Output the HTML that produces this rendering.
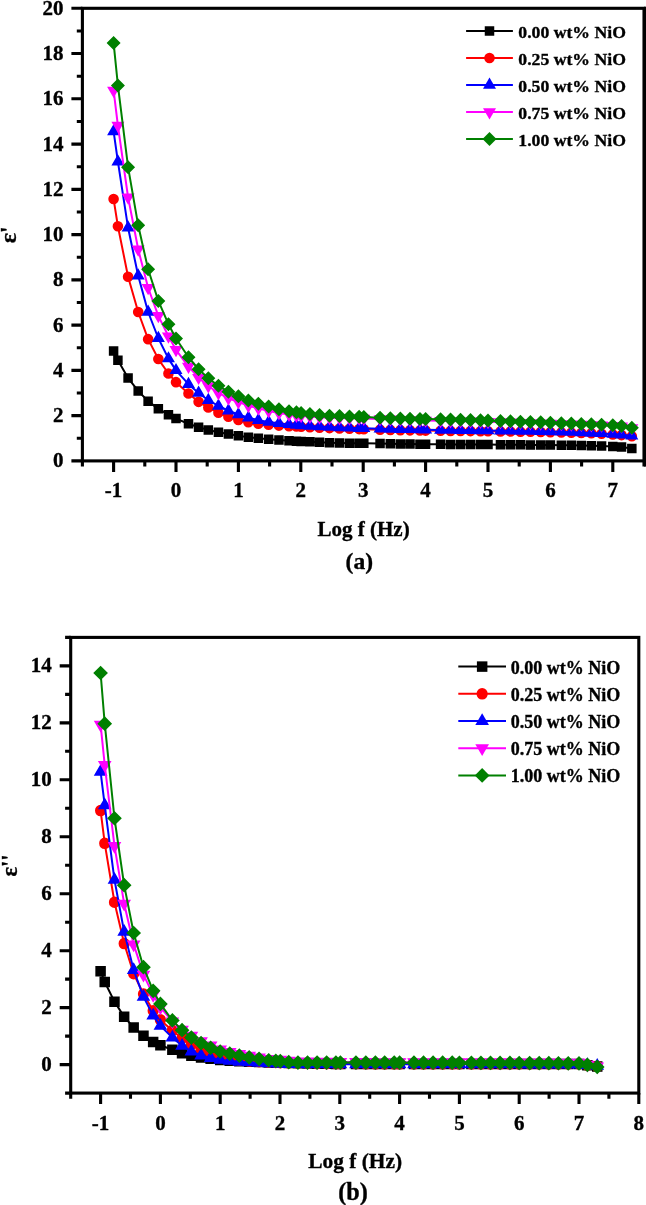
<!DOCTYPE html>
<html><head><meta charset="utf-8"><title>Dielectric plots</title>
<style>html,body{margin:0;padding:0;background:#fff}svg{display:block}</style></head>
<body>
<svg width="646" height="1205" viewBox="0 0 646 1205">
<rect width="646" height="1205" fill="#fff"/>
<g>
<polyline points="113.6,350.92 117.91,360.2 128.08,378.07 138.19,390.97 148.11,401.16 158.34,408.85 168.45,414.73 176,418.58 188.48,423.79 198.59,427.18 208.32,429.9 218.43,432.16 228.42,433.97 238.4,435.78 248.38,437.14 258.37,438.24 268.66,439.23 278.96,440.06 289.01,440.73 296.43,441.16 301.11,441.42 309.91,441.87 319.52,442.34 329.5,442.8 339.49,443.02 349.47,443.19 359.14,443.32 363.82,443.37 380.05,443.59 390.34,443.76 400.33,443.93 410,444.08 419.98,444.21 425.6,444.27 440.58,444.37 450.56,444.42 460.54,444.47 470.53,444.51 480.51,444.56 488,444.61 500.48,444.68 510.46,444.74 520.45,444.81 530.43,444.88 540.73,444.97 550.4,445.06 561.32,445.19 571.3,445.34 581.29,445.52 591.33,445.73 601.57,446 612.8,446.42 621.54,446.98 631.83,448.45" fill="none" stroke="#000000" stroke-width="2.0" stroke-linejoin="round"/>
<path d="M108.85 346.17h9.5v9.5h-9.5zM113.16 355.45h9.5v9.5h-9.5zM123.33 373.32h9.5v9.5h-9.5zM133.44 386.22h9.5v9.5h-9.5zM143.36 396.41h9.5v9.5h-9.5zM153.59 404.1h9.5v9.5h-9.5zM163.7 409.98h9.5v9.5h-9.5zM171.25 413.83h9.5v9.5h-9.5zM183.73 419.04h9.5v9.5h-9.5zM193.84 422.43h9.5v9.5h-9.5zM203.57 425.15h9.5v9.5h-9.5zM213.68 427.41h9.5v9.5h-9.5zM223.67 429.22h9.5v9.5h-9.5zM233.65 431.03h9.5v9.5h-9.5zM243.63 432.39h9.5v9.5h-9.5zM253.62 433.49h9.5v9.5h-9.5zM263.91 434.48h9.5v9.5h-9.5zM274.21 435.31h9.5v9.5h-9.5zM284.26 435.98h9.5v9.5h-9.5zM291.68 436.41h9.5v9.5h-9.5zM296.36 436.67h9.5v9.5h-9.5zM305.16 437.12h9.5v9.5h-9.5zM314.77 437.59h9.5v9.5h-9.5zM324.75 438.05h9.5v9.5h-9.5zM334.74 438.27h9.5v9.5h-9.5zM344.72 438.44h9.5v9.5h-9.5zM354.39 438.57h9.5v9.5h-9.5zM359.07 438.62h9.5v9.5h-9.5zM375.3 438.84h9.5v9.5h-9.5zM385.59 439.01h9.5v9.5h-9.5zM395.58 439.18h9.5v9.5h-9.5zM405.25 439.33h9.5v9.5h-9.5zM415.23 439.46h9.5v9.5h-9.5zM420.85 439.52h9.5v9.5h-9.5zM435.83 439.62h9.5v9.5h-9.5zM445.81 439.67h9.5v9.5h-9.5zM455.79 439.72h9.5v9.5h-9.5zM465.78 439.76h9.5v9.5h-9.5zM475.76 439.81h9.5v9.5h-9.5zM483.25 439.86h9.5v9.5h-9.5zM495.73 439.93h9.5v9.5h-9.5zM505.71 439.99h9.5v9.5h-9.5zM515.7 440.06h9.5v9.5h-9.5zM525.68 440.13h9.5v9.5h-9.5zM535.98 440.22h9.5v9.5h-9.5zM545.65 440.31h9.5v9.5h-9.5zM556.57 440.44h9.5v9.5h-9.5zM566.55 440.59h9.5v9.5h-9.5zM576.54 440.77h9.5v9.5h-9.5zM586.58 440.98h9.5v9.5h-9.5zM596.82 441.25h9.5v9.5h-9.5zM608.05 441.67h9.5v9.5h-9.5zM616.79 442.23h9.5v9.5h-9.5zM627.08 443.7h9.5v9.5h-9.5z" fill="#000000"/>
<polyline points="113.6,199.07 117.91,226.23 128.08,276.69 138.19,311.99 148.11,339.15 158.34,359.06 168.45,373.55 176,382.15 188.48,393.46 198.59,401.84 208.32,407.49 218.43,412.7 228.42,416.77 238.4,419.94 248.38,422.2 258.37,423.79 268.66,424.81 278.96,425.58 289.01,426.18 296.43,426.57 301.11,426.79 309.91,427.19 319.52,427.63 329.5,428.09 339.49,428.46 349.47,428.8 359.14,429.1 363.82,429.24 380.05,429.66 390.34,429.9 400.33,430.15 410,430.35 419.98,430.52 425.6,430.6 440.58,430.81 450.56,430.92 460.54,431.03 470.53,431.11 480.51,431.19 488,431.25 500.48,431.39 510.46,431.52 520.45,431.65 530.43,431.81 540.73,431.98 550.4,432.16 561.32,432.39 571.3,432.64 581.29,432.94 591.33,433.28 601.57,433.75 612.8,434.42 621.54,435.1 631.83,436.23" fill="none" stroke="#ff0000" stroke-width="2.0" stroke-linejoin="round"/>
<path d="M108.3 199.07a5.3 5.3 0 1 0 10.6 0a5.3 5.3 0 1 0 -10.6 0zM112.61 226.23a5.3 5.3 0 1 0 10.6 0a5.3 5.3 0 1 0 -10.6 0zM122.78 276.69a5.3 5.3 0 1 0 10.6 0a5.3 5.3 0 1 0 -10.6 0zM132.89 311.99a5.3 5.3 0 1 0 10.6 0a5.3 5.3 0 1 0 -10.6 0zM142.81 339.15a5.3 5.3 0 1 0 10.6 0a5.3 5.3 0 1 0 -10.6 0zM153.04 359.06a5.3 5.3 0 1 0 10.6 0a5.3 5.3 0 1 0 -10.6 0zM163.15 373.55a5.3 5.3 0 1 0 10.6 0a5.3 5.3 0 1 0 -10.6 0zM170.7 382.15a5.3 5.3 0 1 0 10.6 0a5.3 5.3 0 1 0 -10.6 0zM183.18 393.46a5.3 5.3 0 1 0 10.6 0a5.3 5.3 0 1 0 -10.6 0zM193.29 401.84a5.3 5.3 0 1 0 10.6 0a5.3 5.3 0 1 0 -10.6 0zM203.02 407.49a5.3 5.3 0 1 0 10.6 0a5.3 5.3 0 1 0 -10.6 0zM213.13 412.7a5.3 5.3 0 1 0 10.6 0a5.3 5.3 0 1 0 -10.6 0zM223.12 416.77a5.3 5.3 0 1 0 10.6 0a5.3 5.3 0 1 0 -10.6 0zM233.1 419.94a5.3 5.3 0 1 0 10.6 0a5.3 5.3 0 1 0 -10.6 0zM243.08 422.2a5.3 5.3 0 1 0 10.6 0a5.3 5.3 0 1 0 -10.6 0zM253.07 423.79a5.3 5.3 0 1 0 10.6 0a5.3 5.3 0 1 0 -10.6 0zM263.36 424.81a5.3 5.3 0 1 0 10.6 0a5.3 5.3 0 1 0 -10.6 0zM273.66 425.58a5.3 5.3 0 1 0 10.6 0a5.3 5.3 0 1 0 -10.6 0zM283.71 426.18a5.3 5.3 0 1 0 10.6 0a5.3 5.3 0 1 0 -10.6 0zM291.13 426.57a5.3 5.3 0 1 0 10.6 0a5.3 5.3 0 1 0 -10.6 0zM295.81 426.79a5.3 5.3 0 1 0 10.6 0a5.3 5.3 0 1 0 -10.6 0zM304.61 427.19a5.3 5.3 0 1 0 10.6 0a5.3 5.3 0 1 0 -10.6 0zM314.22 427.63a5.3 5.3 0 1 0 10.6 0a5.3 5.3 0 1 0 -10.6 0zM324.2 428.09a5.3 5.3 0 1 0 10.6 0a5.3 5.3 0 1 0 -10.6 0zM334.19 428.46a5.3 5.3 0 1 0 10.6 0a5.3 5.3 0 1 0 -10.6 0zM344.17 428.8a5.3 5.3 0 1 0 10.6 0a5.3 5.3 0 1 0 -10.6 0zM353.84 429.1a5.3 5.3 0 1 0 10.6 0a5.3 5.3 0 1 0 -10.6 0zM358.52 429.24a5.3 5.3 0 1 0 10.6 0a5.3 5.3 0 1 0 -10.6 0zM374.75 429.66a5.3 5.3 0 1 0 10.6 0a5.3 5.3 0 1 0 -10.6 0zM385.04 429.9a5.3 5.3 0 1 0 10.6 0a5.3 5.3 0 1 0 -10.6 0zM395.03 430.15a5.3 5.3 0 1 0 10.6 0a5.3 5.3 0 1 0 -10.6 0zM404.7 430.35a5.3 5.3 0 1 0 10.6 0a5.3 5.3 0 1 0 -10.6 0zM414.68 430.52a5.3 5.3 0 1 0 10.6 0a5.3 5.3 0 1 0 -10.6 0zM420.3 430.6a5.3 5.3 0 1 0 10.6 0a5.3 5.3 0 1 0 -10.6 0zM435.28 430.81a5.3 5.3 0 1 0 10.6 0a5.3 5.3 0 1 0 -10.6 0zM445.26 430.92a5.3 5.3 0 1 0 10.6 0a5.3 5.3 0 1 0 -10.6 0zM455.24 431.03a5.3 5.3 0 1 0 10.6 0a5.3 5.3 0 1 0 -10.6 0zM465.23 431.11a5.3 5.3 0 1 0 10.6 0a5.3 5.3 0 1 0 -10.6 0zM475.21 431.19a5.3 5.3 0 1 0 10.6 0a5.3 5.3 0 1 0 -10.6 0zM482.7 431.25a5.3 5.3 0 1 0 10.6 0a5.3 5.3 0 1 0 -10.6 0zM495.18 431.39a5.3 5.3 0 1 0 10.6 0a5.3 5.3 0 1 0 -10.6 0zM505.16 431.52a5.3 5.3 0 1 0 10.6 0a5.3 5.3 0 1 0 -10.6 0zM515.15 431.65a5.3 5.3 0 1 0 10.6 0a5.3 5.3 0 1 0 -10.6 0zM525.13 431.81a5.3 5.3 0 1 0 10.6 0a5.3 5.3 0 1 0 -10.6 0zM535.43 431.98a5.3 5.3 0 1 0 10.6 0a5.3 5.3 0 1 0 -10.6 0zM545.1 432.16a5.3 5.3 0 1 0 10.6 0a5.3 5.3 0 1 0 -10.6 0zM556.02 432.39a5.3 5.3 0 1 0 10.6 0a5.3 5.3 0 1 0 -10.6 0zM566 432.64a5.3 5.3 0 1 0 10.6 0a5.3 5.3 0 1 0 -10.6 0zM575.99 432.94a5.3 5.3 0 1 0 10.6 0a5.3 5.3 0 1 0 -10.6 0zM586.03 433.28a5.3 5.3 0 1 0 10.6 0a5.3 5.3 0 1 0 -10.6 0zM596.27 433.75a5.3 5.3 0 1 0 10.6 0a5.3 5.3 0 1 0 -10.6 0zM607.5 434.42a5.3 5.3 0 1 0 10.6 0a5.3 5.3 0 1 0 -10.6 0zM616.24 435.1a5.3 5.3 0 1 0 10.6 0a5.3 5.3 0 1 0 -10.6 0zM626.53 436.23a5.3 5.3 0 1 0 10.6 0a5.3 5.3 0 1 0 -10.6 0z" fill="#ff0000"/>
<polyline points="113.6,131.41 117.91,161.73 128.08,227.81 138.19,275.79 148.11,311.99 158.34,338.25 168.45,358.61 176,370.38 188.48,384.18 198.59,393.01 208.32,400.25 218.43,405.91 228.42,410.66 238.4,414.51 248.38,417.68 258.37,420.17 268.66,421.93 278.96,423.3 289.01,424.38 296.43,425.04 301.11,425.39 309.91,425.96 319.52,426.47 329.5,426.95 339.49,427.41 349.47,427.83 359.14,428.19 363.82,428.33 380.05,428.76 390.34,429 400.33,429.2 410,429.39 419.98,429.57 425.6,429.67 440.58,429.91 450.56,430.06 460.54,430.2 470.53,430.33 480.51,430.47 488,430.58 500.48,430.74 510.46,430.87 520.45,430.99 530.43,431.13 540.73,431.29 550.4,431.48 561.32,431.77 571.3,432.13 581.29,432.52 591.33,432.94 601.57,433.38 612.8,433.97 621.54,434.65 631.83,435.67" fill="none" stroke="#0000ff" stroke-width="2.0" stroke-linejoin="round"/>
<path d="M113.6 123.94L120.1 135.14L107.1 135.14zM117.91 154.26L124.41 165.46L111.41 165.46zM128.08 220.34L134.58 231.54L121.58 231.54zM138.19 268.32L144.69 279.52L131.69 279.52zM148.11 304.53L154.61 315.73L141.61 315.73zM158.34 330.78L164.84 341.98L151.84 341.98zM168.45 351.15L174.95 362.35L161.95 362.35zM176 362.91L182.5 374.11L169.5 374.11zM188.48 376.72L194.98 387.92L181.98 387.92zM198.59 385.54L205.09 396.74L192.09 396.74zM208.32 392.78L214.82 403.98L201.82 403.98zM218.43 398.44L224.93 409.64L211.93 409.64zM228.42 403.19L234.92 414.39L221.92 414.39zM238.4 407.04L244.9 418.24L231.9 418.24zM248.38 410.21L254.88 421.41L241.88 421.41zM258.37 412.7L264.87 423.9L251.87 423.9zM268.66 414.47L275.16 425.67L262.16 425.67zM278.96 415.83L285.46 427.03L272.46 427.03zM289.01 416.91L295.51 428.11L282.51 428.11zM296.43 417.57L302.93 428.77L289.93 428.77zM301.11 417.93L307.61 429.13L294.61 429.13zM309.91 418.49L316.41 429.69L303.41 429.69zM319.52 419.01L326.02 430.21L313.02 430.21zM329.5 419.49L336 430.69L323 430.69zM339.49 419.95L345.99 431.15L332.99 431.15zM349.47 420.37L355.97 431.57L342.97 431.57zM359.14 420.72L365.64 431.92L352.64 431.92zM363.82 420.86L370.32 432.06L357.32 432.06zM380.05 421.29L386.55 432.49L373.55 432.49zM390.34 421.53L396.84 432.73L383.84 432.73zM400.33 421.74L406.83 432.94L393.83 432.94zM410 421.92L416.5 433.12L403.5 433.12zM419.98 422.11L426.48 433.31L413.48 433.31zM425.6 422.2L432.1 433.4L419.1 433.4zM440.58 422.45L447.08 433.65L434.08 433.65zM450.56 422.59L457.06 433.79L444.06 433.79zM460.54 422.73L467.04 433.93L454.04 433.93zM470.53 422.87L477.03 434.07L464.03 434.07zM480.51 423L487.01 434.2L474.01 434.2zM488 423.11L494.5 434.31L481.5 434.31zM500.48 423.28L506.98 434.48L493.98 434.48zM510.46 423.4L516.96 434.6L503.96 434.6zM520.45 423.52L526.95 434.72L513.95 434.72zM530.43 423.66L536.93 434.86L523.93 434.86zM540.73 423.83L547.23 435.03L534.23 435.03zM550.4 424.01L556.9 435.21L543.9 435.21zM561.32 424.31L567.82 435.51L554.82 435.51zM571.3 424.66L577.8 435.86L564.8 435.86zM581.29 425.06L587.79 436.26L574.79 436.26zM591.33 425.47L597.83 436.67L584.83 436.67zM601.57 425.91L608.07 437.11L595.07 437.11zM612.8 426.5L619.3 437.7L606.3 437.7zM621.54 427.18L628.04 438.38L615.04 438.38zM631.83 428.2L638.33 439.4L625.33 439.4z" fill="#0000ff"/>
<polyline points="113.6,90.45 117.91,125.52 128.08,197.26 138.19,249.31 148.11,287.78 158.34,315.84 168.45,336.21 176,349.79 188.48,366.53 198.59,377.62 208.32,385.99 218.43,393.01 228.42,398.21 238.4,402.06 248.38,405.68 258.37,408.4 268.66,410.98 278.96,413.1 289.01,414.58 296.43,415.45 301.11,415.89 309.91,416.59 319.52,417.22 329.5,417.68 339.49,417.96 349.47,418.17 359.14,418.37 363.82,418.49 380.05,418.97 390.34,419.3 400.33,419.64 410,419.95 419.98,420.24 425.6,420.39 440.58,420.74 450.56,420.95 460.54,421.15 470.53,421.35 480.51,421.57 488,421.75 500.48,422.08 510.46,422.35 520.45,422.65 530.43,422.95 540.73,423.26 550.4,423.56 561.32,423.9 571.3,424.23 581.29,424.56 591.33,424.91 601.57,425.26 612.8,425.71 621.54,426.28 631.83,427.86" fill="none" stroke="#ff00ff" stroke-width="2.0" stroke-linejoin="round"/>
<path d="M113.6 97.91L120.1 86.71L107.1 86.71zM117.91 132.99L124.41 121.79L111.41 121.79zM128.08 204.73L134.58 193.53L121.58 193.53zM138.19 256.78L144.69 245.58L131.69 245.58zM148.11 295.25L154.61 284.05L141.61 284.05zM158.34 323.31L164.84 312.11L151.84 312.11zM168.45 343.68L174.95 332.48L161.95 332.48zM176 357.25L182.5 346.05L169.5 346.05zM188.48 374L194.98 362.8L181.98 362.8zM198.59 385.09L205.09 373.89L192.09 373.89zM208.32 393.46L214.82 382.26L201.82 382.26zM218.43 400.48L224.93 389.28L211.93 389.28zM228.42 405.68L234.92 394.48L221.92 394.48zM238.4 409.53L244.9 398.33L231.9 398.33zM248.38 413.15L254.88 401.95L241.88 401.95zM258.37 415.87L264.87 404.67L251.87 404.67zM268.66 418.44L275.16 407.24L262.16 407.24zM278.96 420.57L285.46 409.37L272.46 409.37zM289.01 422.05L295.51 410.85L282.51 410.85zM296.43 422.92L302.93 411.72L289.93 411.72zM301.11 423.36L307.61 412.16L294.61 412.16zM309.91 424.06L316.41 412.86L303.41 412.86zM319.52 424.69L326.02 413.49L313.02 413.49zM329.5 425.14L336 413.94L323 413.94zM339.49 425.43L345.99 414.23L332.99 414.23zM349.47 425.64L355.97 414.44L342.97 414.44zM359.14 425.84L365.64 414.64L352.64 414.64zM363.82 425.95L370.32 414.75L357.32 414.75zM380.05 426.43L386.55 415.23L373.55 415.23zM390.34 426.77L396.84 415.57L383.84 415.57zM400.33 427.1L406.83 415.9L393.83 415.9zM410 427.41L416.5 416.21L403.5 416.21zM419.98 427.71L426.48 416.51L413.48 416.51zM425.6 427.86L432.1 416.66L419.1 416.66zM440.58 428.21L447.08 417.01L434.08 417.01zM450.56 428.42L457.06 417.22L444.06 417.22zM460.54 428.62L467.04 417.42L454.04 417.42zM470.53 428.82L477.03 417.62L464.03 417.62zM480.51 429.04L487.01 417.84L474.01 417.84zM488 429.22L494.5 418.02L481.5 418.02zM500.48 429.54L506.98 418.34L493.98 418.34zM510.46 429.82L516.96 418.62L503.96 418.62zM520.45 430.11L526.95 418.91L513.95 418.91zM530.43 430.41L536.93 419.21L523.93 419.21zM540.73 430.73L547.23 419.53L534.23 419.53zM550.4 431.03L556.9 419.83L543.9 419.83zM561.32 431.37L567.82 420.17L554.82 420.17zM571.3 431.69L577.8 420.49L564.8 420.49zM581.29 432.03L587.79 420.83L574.79 420.83zM591.33 432.38L597.83 421.18L584.83 421.18zM601.57 432.72L608.07 421.52L595.07 421.52zM612.8 433.18L619.3 421.98L606.3 421.98zM621.54 433.74L628.04 422.54L615.04 422.54zM631.83 435.33L638.33 424.13L625.33 424.13z" fill="#ff00ff"/>
<polyline points="113.6,42.92 117.91,85.47 128.08,167.16 138.19,225.32 148.11,269.22 158.34,300.91 168.45,324.21 176,338.47 188.48,357.25 198.59,369.25 208.32,378.3 218.43,385.77 228.42,391.65 238.4,396.18 248.38,400.48 258.37,403.65 268.66,406.61 278.96,409.23 289.01,411.34 296.43,412.25 301.11,412.92 309.91,414.06 319.52,414.96 329.5,415.64 339.49,416.07 349.47,416.4 359.14,416.73 363.82,416.91 380.05,417.7 390.34,418.14 400.33,418.45 410,418.7 419.98,418.91 425.6,419.02 440.58,419.29 450.56,419.48 460.54,419.71 470.53,420.01 480.51,420.36 488,420.62 500.48,421.02 510.46,421.33 520.45,421.64 530.43,421.96 540.73,422.3 550.4,422.66 561.32,423.14 571.3,423.62 581.29,424 591.33,424.23 601.57,424.69 612.8,425.37 621.54,426.05 631.83,427.86" fill="none" stroke="#008000" stroke-width="2.0" stroke-linejoin="round"/>
<path d="M113.6 35.92L120.6 42.92L113.6 49.92L106.6 42.92zM117.91 78.47L124.91 85.47L117.91 92.47L110.91 85.47zM128.08 160.16L135.08 167.16L128.08 174.16L121.08 167.16zM138.19 218.32L145.19 225.32L138.19 232.32L131.19 225.32zM148.11 262.22L155.11 269.22L148.11 276.22L141.11 269.22zM158.34 293.91L165.34 300.91L158.34 307.91L151.34 300.91zM168.45 317.21L175.45 324.21L168.45 331.21L161.45 324.21zM176 331.47L183 338.47L176 345.47L169 338.47zM188.48 350.25L195.48 357.25L188.48 364.25L181.48 357.25zM198.59 362.25L205.59 369.25L198.59 376.25L191.59 369.25zM208.32 371.3L215.32 378.3L208.32 385.3L201.32 378.3zM218.43 378.77L225.43 385.77L218.43 392.77L211.43 385.77zM228.42 384.65L235.42 391.65L228.42 398.65L221.42 391.65zM238.4 389.18L245.4 396.18L238.4 403.18L231.4 396.18zM248.38 393.48L255.38 400.48L248.38 407.48L241.38 400.48zM258.37 396.65L265.37 403.65L258.37 410.65L251.37 403.65zM268.66 399.61L275.66 406.61L268.66 413.61L261.66 406.61zM278.96 402.23L285.96 409.23L278.96 416.23L271.96 409.23zM289.01 404.34L296.01 411.34L289.01 418.34L282.01 411.34zM296.43 405.25L303.43 412.25L296.43 419.25L289.43 412.25zM301.11 405.92L308.11 412.92L301.11 419.92L294.11 412.92zM309.91 407.06L316.91 414.06L309.91 421.06L302.91 414.06zM319.52 407.96L326.52 414.96L319.52 421.96L312.52 414.96zM329.5 408.64L336.5 415.64L329.5 422.64L322.5 415.64zM339.49 409.07L346.49 416.07L339.49 423.07L332.49 416.07zM349.47 409.4L356.47 416.4L349.47 423.4L342.47 416.4zM359.14 409.73L366.14 416.73L359.14 423.73L352.14 416.73zM363.82 409.91L370.82 416.91L363.82 423.91L356.82 416.91zM380.05 410.7L387.05 417.7L380.05 424.7L373.05 417.7zM390.34 411.14L397.34 418.14L390.34 425.14L383.34 418.14zM400.33 411.45L407.33 418.45L400.33 425.45L393.33 418.45zM410 411.7L417 418.7L410 425.7L403 418.7zM419.98 411.91L426.98 418.91L419.98 425.91L412.98 418.91zM425.6 412.02L432.6 419.02L425.6 426.02L418.6 419.02zM440.58 412.29L447.58 419.29L440.58 426.29L433.58 419.29zM450.56 412.48L457.56 419.48L450.56 426.48L443.56 419.48zM460.54 412.71L467.54 419.71L460.54 426.71L453.54 419.71zM470.53 413.01L477.53 420.01L470.53 427.01L463.53 420.01zM480.51 413.36L487.51 420.36L480.51 427.36L473.51 420.36zM488 413.62L495 420.62L488 427.62L481 420.62zM500.48 414.02L507.48 421.02L500.48 428.02L493.48 421.02zM510.46 414.33L517.46 421.33L510.46 428.33L503.46 421.33zM520.45 414.64L527.45 421.64L520.45 428.64L513.45 421.64zM530.43 414.96L537.43 421.96L530.43 428.96L523.43 421.96zM540.73 415.3L547.73 422.3L540.73 429.3L533.73 422.3zM550.4 415.66L557.4 422.66L550.4 429.66L543.4 422.66zM561.32 416.14L568.32 423.14L561.32 430.14L554.32 423.14zM571.3 416.62L578.3 423.62L571.3 430.62L564.3 423.62zM581.29 417L588.29 424L581.29 431L574.29 424zM591.33 417.23L598.33 424.23L591.33 431.23L584.33 424.23zM601.57 417.69L608.57 424.69L601.57 431.69L594.57 424.69zM612.8 418.37L619.8 425.37L612.8 432.37L605.8 425.37zM621.54 419.05L628.54 426.05L621.54 433.05L614.54 426.05zM631.83 420.86L638.83 427.86L631.83 434.86L624.83 427.86z" fill="#008000"/>
<rect x="82.4" y="8.3" width="561.6" height="452.6" fill="none" stroke="#000" stroke-width="3.1"/>
<path d="M82.4 460.9v5.6M113.6 460.9v11M144.8 460.9v5.6M176 460.9v11M207.2 460.9v5.6M238.4 460.9v11M269.6 460.9v5.6M300.8 460.9v11M332 460.9v5.6M363.2 460.9v11M394.4 460.9v5.6M425.6 460.9v11M456.8 460.9v5.6M488 460.9v11M519.2 460.9v5.6M550.4 460.9v11M581.6 460.9v5.6M612.8 460.9v11M644 460.9v5.6M82.4 460.9h-11M82.4 438.27h-5.6M82.4 415.64h-11M82.4 393.01h-5.6M82.4 370.38h-11M82.4 347.75h-5.6M82.4 325.12h-11M82.4 302.49h-5.6M82.4 279.86h-11M82.4 257.23h-5.6M82.4 234.6h-11M82.4 211.97h-5.6M82.4 189.34h-11M82.4 166.71h-5.6M82.4 144.08h-11M82.4 121.45h-5.6M82.4 98.82h-11M82.4 76.19h-5.6M82.4 53.56h-11M82.4 30.93h-5.6M82.4 8.3h-11" stroke="#000" stroke-width="3.1" fill="none"/>
<text x="113.6" y="497.2" text-anchor="middle" font-size="21" font-family="'Liberation Serif','Times New Roman',serif" font-weight="bold" stroke="#000" stroke-width="0.35">-1</text>
<text x="176" y="497.2" text-anchor="middle" font-size="21" font-family="'Liberation Serif','Times New Roman',serif" font-weight="bold" stroke="#000" stroke-width="0.35">0</text>
<text x="238.4" y="497.2" text-anchor="middle" font-size="21" font-family="'Liberation Serif','Times New Roman',serif" font-weight="bold" stroke="#000" stroke-width="0.35">1</text>
<text x="300.8" y="497.2" text-anchor="middle" font-size="21" font-family="'Liberation Serif','Times New Roman',serif" font-weight="bold" stroke="#000" stroke-width="0.35">2</text>
<text x="363.2" y="497.2" text-anchor="middle" font-size="21" font-family="'Liberation Serif','Times New Roman',serif" font-weight="bold" stroke="#000" stroke-width="0.35">3</text>
<text x="425.6" y="497.2" text-anchor="middle" font-size="21" font-family="'Liberation Serif','Times New Roman',serif" font-weight="bold" stroke="#000" stroke-width="0.35">4</text>
<text x="488" y="497.2" text-anchor="middle" font-size="21" font-family="'Liberation Serif','Times New Roman',serif" font-weight="bold" stroke="#000" stroke-width="0.35">5</text>
<text x="550.4" y="497.2" text-anchor="middle" font-size="21" font-family="'Liberation Serif','Times New Roman',serif" font-weight="bold" stroke="#000" stroke-width="0.35">6</text>
<text x="612.8" y="497.2" text-anchor="middle" font-size="21" font-family="'Liberation Serif','Times New Roman',serif" font-weight="bold" stroke="#000" stroke-width="0.35">7</text>
<text x="63.4" y="467.41" text-anchor="end" font-size="21" font-family="'Liberation Serif','Times New Roman',serif" font-weight="bold" stroke="#000" stroke-width="0.35">0</text>
<text x="63.4" y="422.15" text-anchor="end" font-size="21" font-family="'Liberation Serif','Times New Roman',serif" font-weight="bold" stroke="#000" stroke-width="0.35">2</text>
<text x="63.4" y="376.89" text-anchor="end" font-size="21" font-family="'Liberation Serif','Times New Roman',serif" font-weight="bold" stroke="#000" stroke-width="0.35">4</text>
<text x="63.4" y="331.63" text-anchor="end" font-size="21" font-family="'Liberation Serif','Times New Roman',serif" font-weight="bold" stroke="#000" stroke-width="0.35">6</text>
<text x="63.4" y="286.37" text-anchor="end" font-size="21" font-family="'Liberation Serif','Times New Roman',serif" font-weight="bold" stroke="#000" stroke-width="0.35">8</text>
<text x="63.4" y="241.11" text-anchor="end" font-size="21" font-family="'Liberation Serif','Times New Roman',serif" font-weight="bold" stroke="#000" stroke-width="0.35">10</text>
<text x="63.4" y="195.85" text-anchor="end" font-size="21" font-family="'Liberation Serif','Times New Roman',serif" font-weight="bold" stroke="#000" stroke-width="0.35">12</text>
<text x="63.4" y="150.59" text-anchor="end" font-size="21" font-family="'Liberation Serif','Times New Roman',serif" font-weight="bold" stroke="#000" stroke-width="0.35">14</text>
<text x="63.4" y="105.33" text-anchor="end" font-size="21" font-family="'Liberation Serif','Times New Roman',serif" font-weight="bold" stroke="#000" stroke-width="0.35">16</text>
<text x="63.4" y="60.07" text-anchor="end" font-size="21" font-family="'Liberation Serif','Times New Roman',serif" font-weight="bold" stroke="#000" stroke-width="0.35">18</text>
<text x="63.4" y="14.81" text-anchor="end" font-size="21" font-family="'Liberation Serif','Times New Roman',serif" font-weight="bold" stroke="#000" stroke-width="0.35">20</text>
<rect x="644" y="6.75" width="2" height="459.75" fill="#000"/>
<path d="M466.1 31H512.9" stroke="#000000" stroke-width="2.0"/><path d="M484.75 26.25h9.5v9.5h-9.5z" fill="#000000"/><text x="518.3" y="37.84" font-size="17.7" font-family="'Liberation Serif','Times New Roman',serif" font-weight="bold" stroke="#000" stroke-width="0.35">0.00 wt% NiO</text>
<path d="M466.1 58H512.9" stroke="#ff0000" stroke-width="2.0"/><path d="M484.2 58a5.3 5.3 0 1 0 10.6 0a5.3 5.3 0 1 0 -10.6 0z" fill="#ff0000"/><text x="518.3" y="64.84" font-size="17.7" font-family="'Liberation Serif','Times New Roman',serif" font-weight="bold" stroke="#000" stroke-width="0.35">0.25 wt% NiO</text>
<path d="M466.1 85H512.9" stroke="#0000ff" stroke-width="2.0"/><path d="M489.5 77.53L496 88.73L483 88.73z" fill="#0000ff"/><text x="518.3" y="91.84" font-size="17.7" font-family="'Liberation Serif','Times New Roman',serif" font-weight="bold" stroke="#000" stroke-width="0.35">0.50 wt% NiO</text>
<path d="M466.1 112.1H512.9" stroke="#ff00ff" stroke-width="2.0"/><path d="M489.5 119.57L496 108.37L483 108.37z" fill="#ff00ff"/><text x="518.3" y="118.94" font-size="17.7" font-family="'Liberation Serif','Times New Roman',serif" font-weight="bold" stroke="#000" stroke-width="0.35">0.75 wt% NiO</text>
<path d="M466.1 139.1H512.9" stroke="#008000" stroke-width="2.0"/><path d="M489.5 132.1L496.5 139.1L489.5 146.1L482.5 139.1z" fill="#008000"/><text x="518.3" y="145.94" font-size="17.7" font-family="'Liberation Serif','Times New Roman',serif" font-weight="bold" stroke="#000" stroke-width="0.35">1.00 wt% NiO</text>
<text x="363.6" y="536.4" text-anchor="middle" font-size="21" font-family="'Liberation Serif','Times New Roman',serif" font-weight="bold" stroke="#000" stroke-width="0.35">Log f (Hz)</text>
<text x="359.3" y="569" text-anchor="middle" font-size="23.5" font-family="'Liberation Serif','Times New Roman',serif" font-weight="bold" stroke="#000" stroke-width="0.35">(a)</text>
<text transform="translate(16.3,234.9) rotate(-90)" text-anchor="middle" font-size="24" font-family="'Liberation Serif','Times New Roman',serif" font-weight="bold" stroke="#000" stroke-width="0.35">ε'</text>
</g>
<g>
<polyline points="100.6,971.19 104.73,982.01 114.47,1001.66 124.16,1016.75 133.67,1027.58 143.48,1035.84 153.16,1042.1 160.4,1045.23 172.36,1049.79 182.05,1053.21 191.38,1055.77 201.06,1057.48 210.63,1058.76 220.2,1060.04 229.77,1060.7 239.34,1061.18 249.2,1061.67 259.07,1062.12 268.7,1062.49 275.81,1062.71 280.3,1062.83 288.73,1063.03 297.94,1063.22 307.51,1063.41 317.08,1063.63 326.64,1063.86 335.91,1064.01 340.4,1064.03 355.95,1064.03 365.81,1064.03 375.38,1064.03 384.65,1064.03 394.22,1064.03 399.6,1064.03 413.95,1064.03 423.52,1064.03 433.09,1064.03 442.66,1064.03 452.22,1064.03 459.4,1064.03 471.36,1064.03 480.93,1064.03 490.5,1064.03 500.06,1064.03 509.93,1064.03 519.2,1064.03 529.66,1064.03 539.23,1064.03 548.8,1064.03 558.43,1064.03 568.24,1064.03 579,1064.03 587.37,1065.17 597.24,1066.59" fill="none" stroke="#000000" stroke-width="2.0" stroke-linejoin="round"/>
<path d="M95.35 965.94h10.5v10.5h-10.5zM99.48 976.76h10.5v10.5h-10.5zM109.22 996.41h10.5v10.5h-10.5zM118.91 1011.5h10.5v10.5h-10.5zM128.42 1022.33h10.5v10.5h-10.5zM138.23 1030.59h10.5v10.5h-10.5zM147.91 1036.85h10.5v10.5h-10.5zM155.15 1039.98h10.5v10.5h-10.5zM167.11 1044.54h10.5v10.5h-10.5zM176.8 1047.96h10.5v10.5h-10.5zM186.13 1050.52h10.5v10.5h-10.5zM195.81 1052.23h10.5v10.5h-10.5zM205.38 1053.51h10.5v10.5h-10.5zM214.95 1054.79h10.5v10.5h-10.5zM224.52 1055.45h10.5v10.5h-10.5zM234.09 1055.93h10.5v10.5h-10.5zM243.95 1056.42h10.5v10.5h-10.5zM253.82 1056.87h10.5v10.5h-10.5zM263.45 1057.24h10.5v10.5h-10.5zM270.56 1057.46h10.5v10.5h-10.5zM275.05 1057.58h10.5v10.5h-10.5zM283.48 1057.78h10.5v10.5h-10.5zM292.69 1057.97h10.5v10.5h-10.5zM302.26 1058.16h10.5v10.5h-10.5zM311.83 1058.38h10.5v10.5h-10.5zM321.39 1058.61h10.5v10.5h-10.5zM330.66 1058.76h10.5v10.5h-10.5zM335.15 1058.78h10.5v10.5h-10.5zM350.7 1058.78h10.5v10.5h-10.5zM360.56 1058.78h10.5v10.5h-10.5zM370.13 1058.78h10.5v10.5h-10.5zM379.4 1058.78h10.5v10.5h-10.5zM388.97 1058.78h10.5v10.5h-10.5zM394.35 1058.78h10.5v10.5h-10.5zM408.7 1058.78h10.5v10.5h-10.5zM418.27 1058.78h10.5v10.5h-10.5zM427.84 1058.78h10.5v10.5h-10.5zM437.41 1058.78h10.5v10.5h-10.5zM446.97 1058.78h10.5v10.5h-10.5zM454.15 1058.78h10.5v10.5h-10.5zM466.11 1058.78h10.5v10.5h-10.5zM475.68 1058.78h10.5v10.5h-10.5zM485.25 1058.78h10.5v10.5h-10.5zM494.81 1058.78h10.5v10.5h-10.5zM504.68 1058.78h10.5v10.5h-10.5zM513.95 1058.78h10.5v10.5h-10.5zM524.41 1058.78h10.5v10.5h-10.5zM533.98 1058.78h10.5v10.5h-10.5zM543.55 1058.78h10.5v10.5h-10.5zM553.18 1058.78h10.5v10.5h-10.5zM562.99 1058.78h10.5v10.5h-10.5zM573.75 1058.78h10.5v10.5h-10.5zM582.12 1059.92h10.5v10.5h-10.5zM591.99 1061.34h10.5v10.5h-10.5z" fill="#000000"/>
<polyline points="100.6,810.56 104.73,843.31 114.47,902.26 124.16,943.56 133.67,973.75 143.48,993.97 153.16,1010.77 160.4,1019.89 172.36,1030.42 182.05,1038.4 191.38,1044.66 201.06,1050.08 210.63,1053.78 220.2,1056.63 229.77,1058.69 239.34,1060.11 249.2,1061.12 259.07,1061.74 268.7,1062.18 275.81,1062.46 280.3,1062.63 288.73,1062.93 297.94,1063.21 307.51,1063.42 317.08,1063.56 326.64,1063.66 335.91,1063.73 340.4,1063.75 355.95,1063.78 365.81,1063.8 375.38,1063.82 384.65,1063.83 394.22,1063.84 399.6,1063.84 413.95,1063.85 423.52,1063.85 433.09,1063.86 442.66,1063.86 452.22,1063.86 459.4,1063.87 471.36,1063.87 480.93,1063.87 490.5,1063.88 500.06,1063.88 509.93,1063.89 519.2,1063.9 529.66,1063.91 539.23,1063.93 548.8,1063.95 558.43,1063.97 568.24,1064 579,1064.03 587.37,1065.17 597.24,1066.31" fill="none" stroke="#ff0000" stroke-width="2.0" stroke-linejoin="round"/>
<path d="M95.04 810.56a5.57 5.57 0 1 0 11.13 0a5.57 5.57 0 1 0 -11.13 0zM99.16 843.31a5.57 5.57 0 1 0 11.13 0a5.57 5.57 0 1 0 -11.13 0zM108.91 902.26a5.57 5.57 0 1 0 11.13 0a5.57 5.57 0 1 0 -11.13 0zM118.6 943.56a5.57 5.57 0 1 0 11.13 0a5.57 5.57 0 1 0 -11.13 0zM128.1 973.75a5.57 5.57 0 1 0 11.13 0a5.57 5.57 0 1 0 -11.13 0zM137.91 993.97a5.57 5.57 0 1 0 11.13 0a5.57 5.57 0 1 0 -11.13 0zM147.6 1010.77a5.57 5.57 0 1 0 11.13 0a5.57 5.57 0 1 0 -11.13 0zM154.84 1019.89a5.57 5.57 0 1 0 11.13 0a5.57 5.57 0 1 0 -11.13 0zM166.8 1030.42a5.57 5.57 0 1 0 11.13 0a5.57 5.57 0 1 0 -11.13 0zM176.48 1038.4a5.57 5.57 0 1 0 11.13 0a5.57 5.57 0 1 0 -11.13 0zM185.81 1044.66a5.57 5.57 0 1 0 11.13 0a5.57 5.57 0 1 0 -11.13 0zM195.5 1050.08a5.57 5.57 0 1 0 11.13 0a5.57 5.57 0 1 0 -11.13 0zM205.07 1053.78a5.57 5.57 0 1 0 11.13 0a5.57 5.57 0 1 0 -11.13 0zM214.63 1056.63a5.57 5.57 0 1 0 11.13 0a5.57 5.57 0 1 0 -11.13 0zM224.2 1058.69a5.57 5.57 0 1 0 11.13 0a5.57 5.57 0 1 0 -11.13 0zM233.77 1060.11a5.57 5.57 0 1 0 11.13 0a5.57 5.57 0 1 0 -11.13 0zM243.64 1061.12a5.57 5.57 0 1 0 11.13 0a5.57 5.57 0 1 0 -11.13 0zM253.5 1061.74a5.57 5.57 0 1 0 11.13 0a5.57 5.57 0 1 0 -11.13 0zM263.13 1062.18a5.57 5.57 0 1 0 11.13 0a5.57 5.57 0 1 0 -11.13 0zM270.25 1062.46a5.57 5.57 0 1 0 11.13 0a5.57 5.57 0 1 0 -11.13 0zM274.73 1062.63a5.57 5.57 0 1 0 11.13 0a5.57 5.57 0 1 0 -11.13 0zM283.17 1062.93a5.57 5.57 0 1 0 11.13 0a5.57 5.57 0 1 0 -11.13 0zM292.38 1063.21a5.57 5.57 0 1 0 11.13 0a5.57 5.57 0 1 0 -11.13 0zM301.94 1063.42a5.57 5.57 0 1 0 11.13 0a5.57 5.57 0 1 0 -11.13 0zM311.51 1063.56a5.57 5.57 0 1 0 11.13 0a5.57 5.57 0 1 0 -11.13 0zM321.08 1063.66a5.57 5.57 0 1 0 11.13 0a5.57 5.57 0 1 0 -11.13 0zM330.35 1063.73a5.57 5.57 0 1 0 11.13 0a5.57 5.57 0 1 0 -11.13 0zM334.83 1063.75a5.57 5.57 0 1 0 11.13 0a5.57 5.57 0 1 0 -11.13 0zM350.38 1063.78a5.57 5.57 0 1 0 11.13 0a5.57 5.57 0 1 0 -11.13 0zM360.25 1063.8a5.57 5.57 0 1 0 11.13 0a5.57 5.57 0 1 0 -11.13 0zM369.82 1063.82a5.57 5.57 0 1 0 11.13 0a5.57 5.57 0 1 0 -11.13 0zM379.08 1063.83a5.57 5.57 0 1 0 11.13 0a5.57 5.57 0 1 0 -11.13 0zM388.65 1063.84a5.57 5.57 0 1 0 11.13 0a5.57 5.57 0 1 0 -11.13 0zM394.04 1063.84a5.57 5.57 0 1 0 11.13 0a5.57 5.57 0 1 0 -11.13 0zM408.39 1063.85a5.57 5.57 0 1 0 11.13 0a5.57 5.57 0 1 0 -11.13 0zM417.95 1063.85a5.57 5.57 0 1 0 11.13 0a5.57 5.57 0 1 0 -11.13 0zM427.52 1063.86a5.57 5.57 0 1 0 11.13 0a5.57 5.57 0 1 0 -11.13 0zM437.09 1063.86a5.57 5.57 0 1 0 11.13 0a5.57 5.57 0 1 0 -11.13 0zM446.66 1063.86a5.57 5.57 0 1 0 11.13 0a5.57 5.57 0 1 0 -11.13 0zM453.83 1063.87a5.57 5.57 0 1 0 11.13 0a5.57 5.57 0 1 0 -11.13 0zM465.8 1063.87a5.57 5.57 0 1 0 11.13 0a5.57 5.57 0 1 0 -11.13 0zM475.36 1063.87a5.57 5.57 0 1 0 11.13 0a5.57 5.57 0 1 0 -11.13 0zM484.93 1063.88a5.57 5.57 0 1 0 11.13 0a5.57 5.57 0 1 0 -11.13 0zM494.5 1063.88a5.57 5.57 0 1 0 11.13 0a5.57 5.57 0 1 0 -11.13 0zM504.37 1063.89a5.57 5.57 0 1 0 11.13 0a5.57 5.57 0 1 0 -11.13 0zM513.63 1063.9a5.57 5.57 0 1 0 11.13 0a5.57 5.57 0 1 0 -11.13 0zM524.1 1063.91a5.57 5.57 0 1 0 11.13 0a5.57 5.57 0 1 0 -11.13 0zM533.67 1063.93a5.57 5.57 0 1 0 11.13 0a5.57 5.57 0 1 0 -11.13 0zM543.24 1063.95a5.57 5.57 0 1 0 11.13 0a5.57 5.57 0 1 0 -11.13 0zM552.86 1063.97a5.57 5.57 0 1 0 11.13 0a5.57 5.57 0 1 0 -11.13 0zM562.67 1064a5.57 5.57 0 1 0 11.13 0a5.57 5.57 0 1 0 -11.13 0zM573.43 1064.03a5.57 5.57 0 1 0 11.13 0a5.57 5.57 0 1 0 -11.13 0zM581.81 1065.17a5.57 5.57 0 1 0 11.13 0a5.57 5.57 0 1 0 -11.13 0zM591.67 1066.31a5.57 5.57 0 1 0 11.13 0a5.57 5.57 0 1 0 -11.13 0z" fill="#ff0000"/>
<polyline points="100.6,771.83 104.73,805.43 114.47,879.76 124.16,931.88 133.67,970.05 143.48,996.82 153.16,1015.61 160.4,1025.87 172.36,1037.54 182.05,1045.8 191.38,1051.5 201.06,1055.49 210.63,1058.05 220.2,1059.76 229.77,1060.88 239.34,1061.73 249.2,1062.41 259.07,1062.93 268.7,1063.34 275.81,1063.57 280.3,1063.72 288.73,1063.97 297.94,1064.19 307.51,1064.31 317.08,1064.32 326.64,1064.32 335.91,1064.32 340.4,1064.32 355.95,1064.32 365.81,1064.32 375.38,1064.32 384.65,1064.32 394.22,1064.32 399.6,1064.32 413.95,1064.33 423.52,1064.33 433.09,1064.34 442.66,1064.34 452.22,1064.35 459.4,1064.36 471.36,1064.37 480.93,1064.38 490.5,1064.39 500.06,1064.41 509.93,1064.43 519.2,1064.44 529.66,1064.46 539.23,1064.49 548.8,1064.51 558.43,1064.54 568.24,1064.57 579,1064.6 587.37,1065.17 597.24,1065.74" fill="none" stroke="#0000ff" stroke-width="2.0" stroke-linejoin="round"/>
<path d="M100.6 763.99L107.43 775.75L93.78 775.75zM104.73 797.59L111.55 809.35L97.9 809.35zM114.47 871.92L121.3 883.68L107.65 883.68zM124.16 924.04L130.99 935.8L117.34 935.8zM133.67 962.21L140.49 973.97L126.84 973.97zM143.48 988.98L150.3 1000.74L136.65 1000.74zM153.16 1007.77L159.99 1019.53L146.34 1019.53zM160.4 1018.03L167.22 1029.79L153.58 1029.79zM172.36 1029.7L179.19 1041.46L165.54 1041.46zM182.05 1037.96L188.87 1049.72L175.22 1049.72zM191.38 1043.66L198.2 1055.42L184.55 1055.42zM201.06 1047.65L207.89 1059.41L194.24 1059.41zM210.63 1050.21L217.46 1061.97L203.81 1061.97zM220.2 1051.92L227.02 1063.68L213.38 1063.68zM229.77 1053.04L236.59 1064.8L222.94 1064.8zM239.34 1053.89L246.16 1065.65L232.51 1065.65zM249.2 1054.57L256.03 1066.33L242.38 1066.33zM259.07 1055.09L265.89 1066.85L252.25 1066.85zM268.7 1055.5L275.52 1067.26L261.87 1067.26zM275.81 1055.73L282.64 1067.49L268.99 1067.49zM280.3 1055.88L287.12 1067.64L273.47 1067.64zM288.73 1056.13L295.56 1067.89L281.91 1067.89zM297.94 1056.35L304.76 1068.11L291.12 1068.11zM307.51 1056.47L314.33 1068.23L300.68 1068.23zM317.08 1056.48L323.9 1068.24L310.25 1068.24zM326.64 1056.48L333.47 1068.24L319.82 1068.24zM335.91 1056.48L342.74 1068.24L329.09 1068.24zM340.4 1056.48L347.22 1068.24L333.57 1068.24zM355.95 1056.48L362.77 1068.24L349.12 1068.24zM365.81 1056.48L372.64 1068.24L358.99 1068.24zM375.38 1056.48L382.21 1068.24L368.56 1068.24zM384.65 1056.48L391.47 1068.24L377.82 1068.24zM394.22 1056.48L401.04 1068.24L387.39 1068.24zM399.6 1056.48L406.43 1068.24L392.78 1068.24zM413.95 1056.49L420.78 1068.25L407.13 1068.25zM423.52 1056.49L430.34 1068.25L416.69 1068.25zM433.09 1056.5L439.91 1068.26L426.26 1068.26zM442.66 1056.5L449.48 1068.26L435.83 1068.26zM452.22 1056.51L459.05 1068.27L445.4 1068.27zM459.4 1056.52L466.22 1068.28L452.57 1068.28zM471.36 1056.53L478.19 1068.29L464.54 1068.29zM480.93 1056.54L487.75 1068.3L474.1 1068.3zM490.5 1056.55L497.32 1068.31L483.67 1068.31zM500.06 1056.57L506.89 1068.33L493.24 1068.33zM509.93 1056.59L516.76 1068.35L503.11 1068.35zM519.2 1056.6L526.02 1068.36L512.37 1068.36zM529.66 1056.62L536.49 1068.38L522.84 1068.38zM539.23 1056.65L546.06 1068.41L532.41 1068.41zM548.8 1056.67L555.63 1068.43L541.98 1068.43zM558.43 1056.7L565.25 1068.46L551.6 1068.46zM568.24 1056.73L575.06 1068.49L561.41 1068.49zM579 1056.76L585.83 1068.52L572.17 1068.52zM587.37 1057.33L594.2 1069.09L580.55 1069.09zM597.24 1057.9L604.06 1069.66L590.41 1069.66z" fill="#0000ff"/>
<polyline points="100.6,724.55 104.73,764.99 114.47,845.87 124.16,903.69 133.67,944.41 143.48,974.6 153.16,994.82 160.4,1007.36 172.36,1021.31 182.05,1029.57 191.38,1035.55 201.06,1041.25 210.63,1045.52 220.2,1049.51 229.77,1051.97 239.34,1053.95 249.2,1055.72 259.07,1057.39 268.7,1058.85 275.81,1059.45 280.3,1059.78 288.73,1060.64 297.94,1061.32 307.51,1061.54 317.08,1061.69 326.64,1061.79 335.91,1061.87 340.4,1061.9 355.95,1061.99 365.81,1062.03 375.38,1062.07 384.65,1062.1 394.22,1062.12 399.6,1062.14 413.95,1062.16 423.52,1062.18 433.09,1062.19 442.66,1062.2 452.22,1062.21 459.4,1062.22 471.36,1062.23 480.93,1062.25 490.5,1062.27 500.06,1062.29 509.93,1062.32 519.2,1062.35 529.66,1062.4 539.23,1062.44 548.8,1062.5 558.43,1062.57 568.24,1062.65 579,1062.75 587.37,1064.6 597.24,1066.45" fill="none" stroke="#ff00ff" stroke-width="2.0" stroke-linejoin="round"/>
<path d="M100.6 732.39L107.43 720.63L93.78 720.63zM104.73 772.83L111.55 761.07L97.9 761.07zM114.47 853.71L121.3 841.95L107.65 841.95zM124.16 911.53L130.99 899.77L117.34 899.77zM133.67 952.25L140.49 940.49L126.84 940.49zM143.48 982.44L150.3 970.68L136.65 970.68zM153.16 1002.66L159.99 990.9L146.34 990.9zM160.4 1015.2L167.22 1003.44L153.58 1003.44zM172.36 1029.15L179.19 1017.39L165.54 1017.39zM182.05 1037.41L188.87 1025.65L175.22 1025.65zM191.38 1043.39L198.2 1031.63L184.55 1031.63zM201.06 1049.09L207.89 1037.33L194.24 1037.33zM210.63 1053.36L217.46 1041.6L203.81 1041.6zM220.2 1057.35L227.02 1045.59L213.38 1045.59zM229.77 1059.81L236.59 1048.05L222.94 1048.05zM239.34 1061.79L246.16 1050.03L232.51 1050.03zM249.2 1063.56L256.03 1051.8L242.38 1051.8zM259.07 1065.23L265.89 1053.47L252.25 1053.47zM268.7 1066.69L275.52 1054.93L261.87 1054.93zM275.81 1067.29L282.64 1055.53L268.99 1055.53zM280.3 1067.62L287.12 1055.86L273.47 1055.86zM288.73 1068.48L295.56 1056.72L281.91 1056.72zM297.94 1069.16L304.76 1057.4L291.12 1057.4zM307.51 1069.38L314.33 1057.62L300.68 1057.62zM317.08 1069.53L323.9 1057.77L310.25 1057.77zM326.64 1069.63L333.47 1057.87L319.82 1057.87zM335.91 1069.71L342.74 1057.95L329.09 1057.95zM340.4 1069.74L347.22 1057.98L333.57 1057.98zM355.95 1069.83L362.77 1058.07L349.12 1058.07zM365.81 1069.87L372.64 1058.11L358.99 1058.11zM375.38 1069.91L382.21 1058.15L368.56 1058.15zM384.65 1069.94L391.47 1058.18L377.82 1058.18zM394.22 1069.96L401.04 1058.2L387.39 1058.2zM399.6 1069.98L406.43 1058.22L392.78 1058.22zM413.95 1070L420.78 1058.24L407.13 1058.24zM423.52 1070.02L430.34 1058.26L416.69 1058.26zM433.09 1070.03L439.91 1058.27L426.26 1058.27zM442.66 1070.04L449.48 1058.28L435.83 1058.28zM452.22 1070.05L459.05 1058.29L445.4 1058.29zM459.4 1070.06L466.22 1058.3L452.57 1058.3zM471.36 1070.07L478.19 1058.31L464.54 1058.31zM480.93 1070.09L487.75 1058.33L474.1 1058.33zM490.5 1070.11L497.32 1058.35L483.67 1058.35zM500.06 1070.13L506.89 1058.37L493.24 1058.37zM509.93 1070.16L516.76 1058.4L503.11 1058.4zM519.2 1070.19L526.02 1058.43L512.37 1058.43zM529.66 1070.24L536.49 1058.48L522.84 1058.48zM539.23 1070.28L546.06 1058.52L532.41 1058.52zM548.8 1070.34L555.63 1058.58L541.98 1058.58zM558.43 1070.41L565.25 1058.65L551.6 1058.65zM568.24 1070.49L575.06 1058.73L561.41 1058.73zM579 1070.59L585.83 1058.83L572.17 1058.83zM587.37 1072.44L594.2 1060.68L580.55 1060.68zM597.24 1074.29L604.06 1062.53L590.41 1062.53z" fill="#ff00ff"/>
<polyline points="100.6,673 104.73,723.69 114.47,818.25 124.16,885.18 133.67,933.02 143.48,967.2 153.16,990.84 160.4,1003.94 172.36,1020.46 182.05,1030.14 191.38,1037.54 201.06,1043.08 210.63,1047.8 220.2,1051.5 229.77,1053.69 239.34,1055.66 249.2,1057.43 259.07,1058.82 268.7,1060.27 275.81,1060.85 280.3,1061.21 288.73,1062.18 297.94,1062.61 307.51,1062.61 317.08,1062.61 326.64,1062.61 335.91,1062.61 340.4,1062.61 355.95,1062.61 365.81,1062.61 375.38,1062.61 384.65,1062.62 394.22,1062.62 399.6,1062.63 413.95,1062.64 423.52,1062.66 433.09,1062.67 442.66,1062.69 452.22,1062.72 459.4,1062.74 471.36,1062.77 480.93,1062.81 490.5,1062.85 500.06,1062.89 509.93,1062.94 519.2,1062.99 529.66,1063.06 539.23,1063.12 548.8,1063.19 558.43,1063.27 568.24,1063.36 579,1063.46 587.37,1064.88 597.24,1066.88" fill="none" stroke="#008000" stroke-width="2.0" stroke-linejoin="round"/>
<path d="M100.6 665.65L107.95 673L100.6 680.35L93.25 673zM104.73 716.34L112.08 723.69L104.73 731.04L97.38 723.69zM114.47 810.9L121.82 818.25L114.47 825.6L107.12 818.25zM124.16 877.83L131.51 885.18L124.16 892.53L116.81 885.18zM133.67 925.67L141.02 933.02L133.67 940.37L126.32 933.02zM143.48 959.85L150.83 967.2L143.48 974.55L136.13 967.2zM153.16 983.49L160.51 990.84L153.16 998.19L145.81 990.84zM160.4 996.59L167.75 1003.94L160.4 1011.29L153.05 1003.94zM172.36 1013.11L179.71 1020.46L172.36 1027.81L165.01 1020.46zM182.05 1022.79L189.4 1030.14L182.05 1037.49L174.7 1030.14zM191.38 1030.19L198.73 1037.54L191.38 1044.89L184.03 1037.54zM201.06 1035.73L208.41 1043.08L201.06 1050.43L193.71 1043.08zM210.63 1040.45L217.98 1047.8L210.63 1055.15L203.28 1047.8zM220.2 1044.15L227.55 1051.5L220.2 1058.85L212.85 1051.5zM229.77 1046.34L237.12 1053.69L229.77 1061.04L222.42 1053.69zM239.34 1048.31L246.69 1055.66L239.34 1063.01L231.99 1055.66zM249.2 1050.08L256.55 1057.43L249.2 1064.78L241.85 1057.43zM259.07 1051.47L266.42 1058.82L259.07 1066.17L251.72 1058.82zM268.7 1052.92L276.05 1060.27L268.7 1067.62L261.35 1060.27zM275.81 1053.5L283.16 1060.85L275.81 1068.2L268.46 1060.85zM280.3 1053.86L287.65 1061.21L280.3 1068.56L272.95 1061.21zM288.73 1054.83L296.08 1062.18L288.73 1069.53L281.38 1062.18zM297.94 1055.26L305.29 1062.61L297.94 1069.96L290.59 1062.61zM307.51 1055.26L314.86 1062.61L307.51 1069.96L300.16 1062.61zM317.08 1055.26L324.43 1062.61L317.08 1069.96L309.73 1062.61zM326.64 1055.26L333.99 1062.61L326.64 1069.96L319.29 1062.61zM335.91 1055.26L343.26 1062.61L335.91 1069.96L328.56 1062.61zM340.4 1055.26L347.75 1062.61L340.4 1069.96L333.05 1062.61zM355.95 1055.26L363.3 1062.61L355.95 1069.96L348.6 1062.61zM365.81 1055.26L373.16 1062.61L365.81 1069.96L358.46 1062.61zM375.38 1055.26L382.73 1062.61L375.38 1069.96L368.03 1062.61zM384.65 1055.27L392 1062.62L384.65 1069.97L377.3 1062.62zM394.22 1055.27L401.57 1062.62L394.22 1069.97L386.87 1062.62zM399.6 1055.28L406.95 1062.63L399.6 1069.98L392.25 1062.63zM413.95 1055.29L421.3 1062.64L413.95 1069.99L406.6 1062.64zM423.52 1055.31L430.87 1062.66L423.52 1070.01L416.17 1062.66zM433.09 1055.32L440.44 1062.67L433.09 1070.02L425.74 1062.67zM442.66 1055.34L450.01 1062.69L442.66 1070.04L435.31 1062.69zM452.22 1055.37L459.57 1062.72L452.22 1070.07L444.87 1062.72zM459.4 1055.39L466.75 1062.74L459.4 1070.09L452.05 1062.74zM471.36 1055.42L478.71 1062.77L471.36 1070.12L464.01 1062.77zM480.93 1055.46L488.28 1062.81L480.93 1070.16L473.58 1062.81zM490.5 1055.5L497.85 1062.85L490.5 1070.2L483.15 1062.85zM500.06 1055.54L507.41 1062.89L500.06 1070.24L492.71 1062.89zM509.93 1055.59L517.28 1062.94L509.93 1070.29L502.58 1062.94zM519.2 1055.64L526.55 1062.99L519.2 1070.34L511.85 1062.99zM529.66 1055.71L537.01 1063.06L529.66 1070.41L522.31 1063.06zM539.23 1055.77L546.58 1063.12L539.23 1070.47L531.88 1063.12zM548.8 1055.84L556.15 1063.19L548.8 1070.54L541.45 1063.19zM558.43 1055.92L565.78 1063.27L558.43 1070.62L551.08 1063.27zM568.24 1056.01L575.59 1063.36L568.24 1070.71L560.89 1063.36zM579 1056.11L586.35 1063.46L579 1070.81L571.65 1063.46zM587.37 1057.53L594.72 1064.88L587.37 1072.23L580.02 1064.88zM597.24 1059.53L604.59 1066.88L597.24 1074.23L589.89 1066.88z" fill="#008000"/>
<rect x="70.7" y="637.4" width="568.1" height="455.68" fill="none" stroke="#000" stroke-width="3.1"/>
<path d="M70.7 1093.08v5.6M100.6 1093.08v11M130.5 1093.08v5.6M160.4 1093.08v11M190.3 1093.08v5.6M220.2 1093.08v11M250.1 1093.08v5.6M280 1093.08v11M309.9 1093.08v5.6M339.8 1093.08v11M369.7 1093.08v5.6M399.6 1093.08v11M429.5 1093.08v5.6M459.4 1093.08v11M489.3 1093.08v5.6M519.2 1093.08v11M549.1 1093.08v5.6M579 1093.08v11M608.9 1093.08v5.6M638.8 1093.08v11M70.7 1093.08h-5.6M70.7 1064.6h-11M70.7 1036.12h-5.6M70.7 1007.64h-11M70.7 979.16h-5.6M70.7 950.68h-11M70.7 922.2h-5.6M70.7 893.72h-11M70.7 865.24h-5.6M70.7 836.76h-11M70.7 808.28h-5.6M70.7 779.8h-11M70.7 751.32h-5.6M70.7 722.84h-11M70.7 694.36h-5.6M70.7 665.88h-11M70.7 637.4h-5.6" stroke="#000" stroke-width="3.1" fill="none"/>
<text x="100.6" y="1129.98" text-anchor="middle" font-size="21" font-family="'Liberation Serif','Times New Roman',serif" font-weight="bold" stroke="#000" stroke-width="0.35">-1</text>
<text x="160.4" y="1129.98" text-anchor="middle" font-size="21" font-family="'Liberation Serif','Times New Roman',serif" font-weight="bold" stroke="#000" stroke-width="0.35">0</text>
<text x="220.2" y="1129.98" text-anchor="middle" font-size="21" font-family="'Liberation Serif','Times New Roman',serif" font-weight="bold" stroke="#000" stroke-width="0.35">1</text>
<text x="280" y="1129.98" text-anchor="middle" font-size="21" font-family="'Liberation Serif','Times New Roman',serif" font-weight="bold" stroke="#000" stroke-width="0.35">2</text>
<text x="339.8" y="1129.98" text-anchor="middle" font-size="21" font-family="'Liberation Serif','Times New Roman',serif" font-weight="bold" stroke="#000" stroke-width="0.35">3</text>
<text x="399.6" y="1129.98" text-anchor="middle" font-size="21" font-family="'Liberation Serif','Times New Roman',serif" font-weight="bold" stroke="#000" stroke-width="0.35">4</text>
<text x="459.4" y="1129.98" text-anchor="middle" font-size="21" font-family="'Liberation Serif','Times New Roman',serif" font-weight="bold" stroke="#000" stroke-width="0.35">5</text>
<text x="519.2" y="1129.98" text-anchor="middle" font-size="21" font-family="'Liberation Serif','Times New Roman',serif" font-weight="bold" stroke="#000" stroke-width="0.35">6</text>
<text x="579" y="1129.98" text-anchor="middle" font-size="21" font-family="'Liberation Serif','Times New Roman',serif" font-weight="bold" stroke="#000" stroke-width="0.35">7</text>
<text x="638.8" y="1129.98" text-anchor="middle" font-size="21" font-family="'Liberation Serif','Times New Roman',serif" font-weight="bold" stroke="#000" stroke-width="0.35">8</text>
<text x="51.7" y="1071.11" text-anchor="end" font-size="21" font-family="'Liberation Serif','Times New Roman',serif" font-weight="bold" stroke="#000" stroke-width="0.35">0</text>
<text x="51.7" y="1014.15" text-anchor="end" font-size="21" font-family="'Liberation Serif','Times New Roman',serif" font-weight="bold" stroke="#000" stroke-width="0.35">2</text>
<text x="51.7" y="957.19" text-anchor="end" font-size="21" font-family="'Liberation Serif','Times New Roman',serif" font-weight="bold" stroke="#000" stroke-width="0.35">4</text>
<text x="51.7" y="900.23" text-anchor="end" font-size="21" font-family="'Liberation Serif','Times New Roman',serif" font-weight="bold" stroke="#000" stroke-width="0.35">6</text>
<text x="51.7" y="843.27" text-anchor="end" font-size="21" font-family="'Liberation Serif','Times New Roman',serif" font-weight="bold" stroke="#000" stroke-width="0.35">8</text>
<text x="51.7" y="786.31" text-anchor="end" font-size="21" font-family="'Liberation Serif','Times New Roman',serif" font-weight="bold" stroke="#000" stroke-width="0.35">10</text>
<text x="51.7" y="729.35" text-anchor="end" font-size="21" font-family="'Liberation Serif','Times New Roman',serif" font-weight="bold" stroke="#000" stroke-width="0.35">12</text>
<text x="51.7" y="672.39" text-anchor="end" font-size="21" font-family="'Liberation Serif','Times New Roman',serif" font-weight="bold" stroke="#000" stroke-width="0.35">14</text>
<path d="M458.3 666.6H506" stroke="#000000" stroke-width="2.0"/><path d="M476.9 661.35h10.5v10.5h-10.5z" fill="#000000"/><text x="510.8" y="673.54" font-size="18.0" font-family="'Liberation Serif','Times New Roman',serif" font-weight="bold" stroke="#000" stroke-width="0.35">0.00 wt% NiO</text>
<path d="M458.3 693.8H506" stroke="#ff0000" stroke-width="2.0"/><path d="M476.58 693.8a5.57 5.57 0 1 0 11.13 0a5.57 5.57 0 1 0 -11.13 0z" fill="#ff0000"/><text x="510.8" y="700.74" font-size="18.0" font-family="'Liberation Serif','Times New Roman',serif" font-weight="bold" stroke="#000" stroke-width="0.35">0.25 wt% NiO</text>
<path d="M458.3 721H506" stroke="#0000ff" stroke-width="2.0"/><path d="M482.15 713.16L488.97 724.92L475.32 724.92z" fill="#0000ff"/><text x="510.8" y="727.94" font-size="18.0" font-family="'Liberation Serif','Times New Roman',serif" font-weight="bold" stroke="#000" stroke-width="0.35">0.50 wt% NiO</text>
<path d="M458.3 748.2H506" stroke="#ff00ff" stroke-width="2.0"/><path d="M482.15 756.04L488.97 744.28L475.32 744.28z" fill="#ff00ff"/><text x="510.8" y="755.14" font-size="18.0" font-family="'Liberation Serif','Times New Roman',serif" font-weight="bold" stroke="#000" stroke-width="0.35">0.75 wt% NiO</text>
<path d="M458.3 775.4H506" stroke="#008000" stroke-width="2.0"/><path d="M482.15 768.05L489.5 775.4L482.15 782.75L474.8 775.4z" fill="#008000"/><text x="510.8" y="782.34" font-size="18.0" font-family="'Liberation Serif','Times New Roman',serif" font-weight="bold" stroke="#000" stroke-width="0.35">1.00 wt% NiO</text>
<text x="355.2" y="1167.6" text-anchor="middle" font-size="21.4" font-family="'Liberation Serif','Times New Roman',serif" font-weight="bold" stroke="#000" stroke-width="0.35">Log f (Hz)</text>
<text x="353.1" y="1199.5" text-anchor="middle" font-size="24.2" font-family="'Liberation Serif','Times New Roman',serif" font-weight="bold" stroke="#000" stroke-width="0.35">(b)</text>
<text transform="translate(16.5,865.5) rotate(-90)" text-anchor="middle" font-size="22.5" font-family="'Liberation Serif','Times New Roman',serif" font-weight="bold" stroke="#000" stroke-width="0.35">ε''</text>
</g>
</svg>
</body></html>
